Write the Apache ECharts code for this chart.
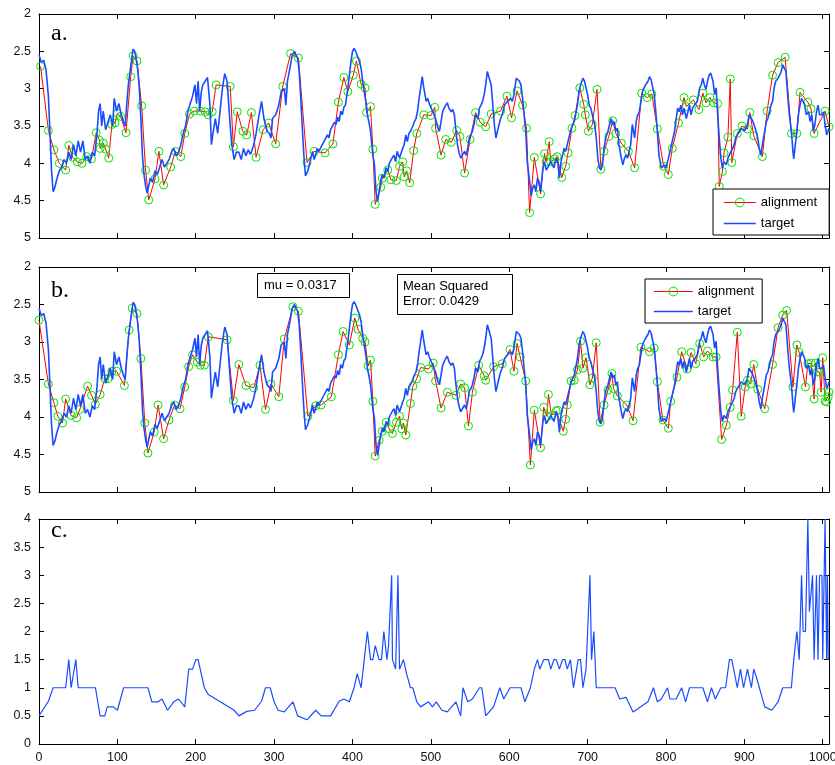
<!DOCTYPE html>
<html>
<head>
<meta charset="utf-8">
<script src="https://cdn.jsdelivr.net/npm/echarts@6/dist/echarts.min.js"></script>
<style>
  html, body { margin: 0; padding: 0; background: #fff; }
  #chart { width: 835px; height: 765px; }
</style>
</head>
<body>
<div id="chart"></div>
<script>
// target signal (same in panels a and b), [x, y]
const target = [
  [0,2.55],[3,2.65],[6,2.62],[9,2.75],[12,3.1],[14,3.6],[16,4.1],[18,4.38],[20,4.33],[23,4.2],[26,4.1],[29,4.05],
  [32,3.95],[35,4.0],[38,3.85],[41,3.95],[44,3.75],[47,3.9],[50,3.7],[53,3.85],[56,3.7],[59,3.95],[62,3.9],[65,4.0],
  [68,3.85],[71,3.9],[74,3.6],[76,3.3],[78,3.2],[80,3.5],[82,3.3],[85,3.55],[88,3.45],[91,3.35],[94,3.5],[96,3.13],
  [99,3.3],[102,3.2],[105,3.35],[108,3.45],[110,3.5],[112,3.2],[114,2.95],[117,2.7],[120,2.47],[122,2.5],[124,2.6],
  [126,2.75],[128,3.0],[130,3.4],[132,3.9],[134,4.15],[136,4.3],[138,4.4],[140,4.3],[142,4.2],[145,4.25],[148,4.1],
  [151,4.15],[154,4.05],[157,3.95],[160,4.05],[163,4.0],[166,3.95],[169,3.85],[172,3.8],[175,3.9],[178,3.85],
  [181,3.75],[184,3.6],[187,3.5],[190,3.3],[193,3.2],[196,3.1],[199,2.95],[201,3.2],[203,2.9],[205,3.3],[207,3.05],
  [209,2.95],[212,2.9],[215,2.85],[218,3.2],[220,3.75],[222,3.6],[225,3.4],[228,3.6],[231,3.3],[234,3.0],[237,2.8],
  [240,2.9],[242,3.2],[244,3.5],[246,3.75],[249,3.95],[252,3.85],[255,3.85],[258,3.95],[261,3.8],[264,3.9],
  [267,3.82],[270,3.88],[274,3.75],[277,3.6],[280,3.4],[284,3.17],[287,3.4],[291,3.57],[294,3.6],[296,3.66],
  [298,3.4],[302,3.35],[306,3.22],[309,3.04],[313,3.0],[315,3.22],[317,2.9],[321,2.68],[323,2.55],[326,2.5],
  [328,2.55],[330,2.59],[332,2.77],[334,3.13],[336,3.53],[338,3.9],[340,4.17],[343,4.1],[345,4.02],[347,3.93],
  [349,3.84],[351,3.95],[353,3.89],[355,3.8],[357,3.84],[360,3.78],[362,3.8],[364,3.7],[366,3.71],[368,3.62],
  [370,3.66],[372,3.55],[374,3.57],[377,3.45],[379,3.48],[381,3.38],[383,3.44],[385,3.3],[387,3.35],[389,3.25],
  [391,3.22],[394,3.0],[396,2.82],[398,2.64],[400,2.5],[402,2.46],[404,2.5],[406,2.48],[409,2.64],[411,2.73],
  [413,2.9],[415,3.04],[417,3.17],[419,3.35],[421,3.45],[423,3.57],[426,3.89],[428,4.02],[430,4.38],[432,4.51],
  [434,4.38],[436,4.24],[438,4.15],[440,4.2],[443,4.06],[445,4.11],[447,4.0],[449,3.98],[451,3.92],[453,3.89],
  [455,3.98],[457,3.84],[460,3.93],[462,3.92],[464,3.8],[466,3.75],[468,3.62],[470,3.71],[472,3.6],[474,3.57],
  [477,3.5],[479,3.44],[481,3.4],[483,3.3],[485,3.13],[487,2.99],[489,2.84],[491,2.99],[494,3.17],[496,3.13],
  [498,3.2],[500,3.22],[504,3.35],[506,3.4],[509,3.53],[511,3.57],[513,3.44],[515,3.31],[517,3.26],[519,3.22],
  [521,3.19],[523,3.26],[526,3.31],[528,3.28],[530,3.35],[532,3.57],[534,3.75],[536,3.86],[538,3.93],[540,3.91],
  [543,3.84],[545,3.89],[547,3.8],[549,3.66],[551,3.62],[553,3.57],[555,3.48],[557,3.35],[560,3.4],[562,3.26],
  [564,3.22],[566,3.17],[568,3.08],[570,2.95],[572,2.77],[574,2.75],[577,2.95],[579,3.22],[581,3.48],[583,3.66],
  [585,3.57],[587,3.48],[589,3.4],[591,3.35],[594,3.22],[598,3.17],[602,3.13],[604,3.17],[606,3.08],[609,2.86],
  [611,2.84],[613,2.9],[615,2.95],[617,3.13],[619,3.35],[621,3.57],[623,3.98],[626,4.24],[628,4.44],[630,4.33],
  [632,4.29],[634,4.38],[636,4.2],[638,4.24],[640,4.38],[643,4.06],[645,3.98],[647,4.09],[649,4.06],[653,3.98],
  [657,4.06],[660,3.93],[662,4.0],[664,4.2],[666,3.98],[668,3.89],[670,3.8],[672,3.84],[674,3.75],[677,3.62],
  [679,3.53],[683,3.44],[687,3.22],[689,3.04],[691,2.95],[694,2.86],[696,2.9],[698,2.99],[700,3.08],[702,3.22],
  [704,3.26],[706,3.35],[709,3.48],[711,3.66],[713,3.93],[715,4.06],[717,4.09],[719,4.02],[721,3.8],[723,3.66],
  [726,3.57],[728,3.48],[730,3.4],[732,3.48],[734,3.44],[736,3.57],[738,3.53],[740,3.75],[743,3.93],[745,4.02],
  [747,3.93],[749,3.89],[751,3.93],[753,3.84],[755,3.75],[757,3.48],[760,3.66],[762,3.44],[764,3.35],[766,3.31],
  [768,3.17],[770,3.04],[772,2.99],[774,2.95],[777,2.9],[779,2.84],[781,2.88],[783,2.9],[785,3.08],[787,3.31],
  [789,3.57],[791,3.89],[794,4.06],[796,4.04],[798,4.02],[800,4.06],[802,3.98],[804,3.89],[806,3.8],[809,3.66],
  [811,3.57],[813,3.4],[815,3.26],[817,3.31],[819,3.22],[821,3.35],[823,3.26],[826,3.4],[828,3.31],[830,3.22],
  [832,3.35],[834,3.26],[836,3.26],[840,3.17],[843,2.99],[845,2.95],[847,2.86],[849,2.95],[851,3.01],[853,2.9],
  [855,2.82],[857,2.79],[860,2.9],[862,3.08],[864,2.99],[866,3.35],[868,3.66],[870,3.93],[872,4.06],[874,3.98],
  [877,4.02],[879,3.93],[881,3.93],[883,3.84],[885,3.8],[887,3.75],[889,3.66],[891,3.62],[894,3.57],[896,3.53],
  [900,3.57],[902,3.53],[904,3.48],[906,3.35],[909,3.4],[911,3.44],[913,3.44],[915,3.57],[917,3.66],[919,3.8],
  [921,3.89],[923,3.75],[926,3.57],[928,3.44],[930,3.4],[932,3.31],[934,3.22],[936,3.17],[938,2.99],[940,2.9],
  [943,2.86],[945,2.82],[947,2.77],[949,2.68],[951,2.66],[953,2.77],[955,3.04],[957,3.31],[960,3.57],[962,3.84],
  [963,3.94],[965,3.75],[967,3.57],[969,3.35],[971,3.22],[973,3.13],[975,3.17],[977,3.22],[979,3.35],[982,3.31],
  [984,3.44],[986,3.35],[988,3.57],[990,3.48],[992,3.31],[994,3.22],[996,3.35],[999,3.35],[1001,3.31],[1003,3.48],
  [1005,3.62],[1007,3.57],[1008,3.53]
];

// alignment of panel a, [x, y]
const alignmentA = [
  [2,2.70],[12,3.56],[19,3.82],[26,4.0],[34,4.09],[38,3.76],[43,3.92],[49,3.98],[55,4.0],[61,3.91],[67,3.94],
  [73,3.59],[77,3.69],[78,3.80],[82,3.73],[85,3.81],[89,3.93],[93,3.48],[97,3.46],[100,3.33],[104,3.37],[111,3.59],
  [117,2.84],[120,2.56],[125,2.63],[131,3.23],[136,4.09],[140,4.49],[148,4.21],[153,3.84],[159,4.29],[168,4.05],
  [174,3.84],[181,3.91],[186,3.60],[192,3.34],[198,3.30],[206,3.30],[212,3.31],[216,3.35],[221,3.31],[226,2.95],
  [244,2.97],[248,3.78],[253,3.31],[260,3.57],[265,3.62],[271,3.32],[277,3.92],[286,3.55],[293,3.46],[302,3.74],
  [311,2.97],[321,2.53],[331,2.59],[342,3.99],[351,3.84],[365,3.86],[375,3.74],[382,3.18],[389,2.85],[394,3.04],
  [401,2.82],[405,2.63],[411,2.94],[416,2.99],[418,3.32],[423,3.24],[426,3.81],[429,4.55],[436,4.32],[438,4.20],
  [445,4.09],[449,4.22],[456,4.23],[460,4.04],[464,3.98],[466,4.18],[469,4.10],[473,4.26],[478,3.83],[482,3.60],
  [491,3.35],[500,3.36],[505,3.25],[506,3.53],[513,3.89],[519,3.68],[526,3.72],[533,3.56],[537,3.64],[543,4.13],
  [550,3.68],[557,3.32],[563,3.45],[570,3.51],[577,3.34],[589,3.30],[597,3.10],[603,3.39],[610,3.03],[617,3.22],
  [622,3.53],[626,4.66],[632,3.92],[640,4.41],[645,3.87],[647,3.98],[651,3.71],[653,3.98],[658,3.94],[661,3.91],
  [667,4.19],[672,4.04],[675,3.86],[680,3.53],[684,3.36],[690,2.99],[695,3.21],[697,3.35],[701,3.57],[706,3.48],
  [712,3.01],[717,4.08],[721,3.84],[727,3.64],[732,3.43],[736,3.60],[743,3.73],[752,3.84],[760,4.06],[769,3.06],
  [776,3.12],[782,3.07],[789,3.54],[797,4.04],[803,4.15],[808,3.80],[816,3.46],[823,3.12],[826,3.24],[835,3.15],
  [842,3.28],[847,3.06],[851,3.19],[856,3.12],[861,3.19],[866,3.20],[868,4.31],[872,4.11],[874,3.86],[879,3.65],
  [882,2.87],[884,3.99],[891,3.60],[897,3.50],[904,3.54],[907,3.32],[912,3.63],[923,3.91],[929,3.30],[936,2.82],
  [943,2.65],[952,2.58],[960,3.60],[967,3.60],[971,3.05],[981,3.18],[985,3.27],[989,3.60],[1003,3.30],[1008,3.51]
];

// alignment of panel b, [x, y]
const alignmentB = [
  [0,2.71],[12,3.56],[19,3.81],[24,3.99],[30,4.08],[34,3.76],[41,3.98],[48,4.01],[52,3.90],[62,3.59],[67,3.71],
  [72,3.83],[78,3.70],[84,3.49],[88,3.49],[93,3.39],[99,3.39],[109,3.58],[115,2.84],[119,2.55],[125,2.62],[130,3.22],
  [135,4.08],[139,4.48],[147,4.20],[152,3.84],[159,4.29],[166,4.04],[173,3.84],[180,3.89],[186,3.60],[191,3.33],
  [196,3.17],[202,3.27],[206,3.31],[211,3.31],[216,2.93],[240,2.97],[248,3.78],[255,3.30],[264,3.58],[274,3.61],
  [282,3.31],[289,3.90],[296,3.56],[306,3.73],[313,2.96],[324,2.53],[331,2.59],[343,3.99],[353,3.85],[360,3.84],
  [373,3.73],[382,3.17],[388,2.86],[396,3.04],[403,2.68],[407,2.83],[413,2.95],[416,3.00],[420,3.32],[423,3.24],
  [426,3.79],[429,4.52],[434,4.31],[438,4.19],[443,4.07],[447,4.16],[451,4.22],[456,4.07],[460,3.99],[463,4.16],
  [465,4.08],[468,4.24],[474,3.82],[477,3.59],[482,3.49],[487,3.34],[497,3.36],[503,3.28],[506,3.52],[513,3.88],
  [521,3.67],[532,3.71],[538,3.56],[543,3.61],[548,4.12],[553,3.67],[561,3.31],[568,3.45],[570,3.51],[580,3.33],
  [591,3.29],[601,3.10],[606,3.39],[610,3.02],[614,3.20],[621,3.52],[627,4.64],[632,3.91],[640,4.41],[644,3.87],
  [648,3.99],[650,3.70],[654,3.98],[660,3.92],[662,3.91],[669,4.19],[672,4.03],[674,3.84],[679,3.52],[683,3.51],
  [687,3.37],[691,2.99],[694,3.35],[698,3.21],[703,3.57],[706,3.48],[711,3.01],[716,4.07],[721,3.84],[726,3.64],
  [731,3.42],[733,3.62],[738,3.72],[750,3.84],[758,4.05],[768,3.07],[779,3.13],[785,3.08],[789,3.53],[796,4.04],
  [803,4.15],[806,3.79],[814,3.47],[820,3.13],[827,3.36],[832,3.14],[838,3.29],[843,3.02],[848,3.20],[853,3.12],
  [860,3.20],[864,3.20],[871,4.30],[877,4.11],[882,3.87],[885,3.64],[891,2.87],[896,3.99],[901,3.60],[904,3.51],
  [908,3.56],[912,3.30],[917,3.63],[926,3.89],[936,3.30],[943,2.81],[949,2.64],[954,2.58],[962,3.60],[967,3.04],
  [970,3.14],[978,3.60],[981,3.29],[985,3.28],[989,3.76],[991,3.28],[993,3.40],[996,3.40],[998,3.67],[1000,3.21],
  [1003,3.79],[1005,3.80],[1007,3.73],[1008,3.67]
];

// panel c, [x, y]
const warp = [
  [0,0.5],[12,0.76],[18,1.0],[34,1.0],[38,1.5],[41,1.0],[47,1.5],[50,1.0],[72,1.0],[78,0.5],[84,0.5],[87,0.66],
  [95,0.66],[100,0.6],[108,1.0],[139,1.0],[144,0.75],[152,0.75],[157,0.8],[164,0.6],[172,0.75],[178,0.8],[186,0.66],
  [191,1.33],[196,1.33],[200,1.5],[203,1.5],[211,1.0],[216,0.88],[249,0.6],[255,0.5],[265,0.58],[275,0.6],[284,0.76],
  [289,1.0],[295,1.0],[300,0.75],[305,0.6],[313,0.57],[324,0.75],[330,0.5],[342,0.43],[353,0.6],[360,0.5],[372,0.5],
  [383,0.76],[389,0.8],[396,0.75],[402,1.0],[406,1.25],[411,1.0],[415,1.5],[419,2.0],[423,1.5],[426,1.5],[429,1.75],
  [434,1.5],[437,1.5],[440,2.0],[444,1.5],[446,1.75],[450,3.0],[451,1.5],[455,1.33],[458,3.0],[460,1.33],[465,1.5],
  [469,1.25],[474,1.0],[477,1.0],[482,0.75],[487,0.66],[497,0.75],[502,0.66],[507,0.75],[514,0.6],[521,0.57],
  [532,0.75],[538,0.5],[541,1.0],[547,0.75],[553,0.8],[562,1.0],[565,1.0],[570,0.5],[580,0.66],[588,1.0],[593,0.8],
  [601,1.0],[615,1.0],[620,0.75],[627,1.0],[632,1.33],[636,1.5],[639,1.33],[644,1.5],[650,1.5],[653,1.33],[657,1.5],
  [660,1.5],[664,1.33],[668,1.5],[671,1.5],[674,1.33],[678,1.5],[682,1.0],[688,1.5],[691,1.5],[694,1.0],[698,1.33],
  [703,3.0],[705,1.5],[708,2.0],[711,1.0],[735,1.0],[741,0.8],[749,0.83],[758,0.57],[777,0.75],[784,1.0],[789,0.75],
  [794,0.8],[802,1.0],[805,0.8],[813,0.8],[820,1.0],[825,0.75],[830,1.0],[847,1.0],[853,0.75],[858,1.0],[863,0.8],
  [870,1.0],[876,1.0],[881,1.5],[884,1.5],[891,1.0],[895,1.33],[899,1.0],[904,1.33],[909,1.0],[912,1.33],[916,1.16],
  [926,0.66],[935,0.6],[943,0.75],[949,1.0],[960,1.0],[963,1.5],[967,2.0],[970,1.5],[973,3.0],[975,2.0],[978,2.0],
  [981,4.0],[983,2.35],[987,3.0],[989,1.5],[992,3.0],[994,1.5],[996,3.0],[999,3.0],[1000,1.5],[1003,4.0],[1005,1.5],
  [1006,3.0],[1007,1.5]
];

const panelLabels = ['a.', 'b.', 'c.'];
const muText = 'mu = 0.0317';
const mseText = 'Mean Squared\nError: 0.0429';
const legendNames = ['alignment', 'target'];
const xMax = 1008;

const font = '"Liberation Sans", Arial, Helvetica, sans-serif';
const serif = '"Liberation Serif", "Times New Roman", serif';
const blue = '#1a4cff', red = '#ff0000', green = '#00e600';

// fixed plot boxes; outerBoundsMode none so the clipped "1000" label does not shrink the last panel
const grids = [
  { left: 39, top: 14, width: 790, height: 224, containLabel: false, outerBoundsMode: 'none' },
  { left: 39, top: 267, width: 790, height: 225, containLabel: false, outerBoundsMode: 'none' },
  { left: 39, top: 519, width: 790, height: 225, containLabel: false, outerBoundsMode: 'none' }
];
const yRanges = [
  { min: 2, max: 5, inverse: true },
  { min: 2, max: 5, inverse: true },
  { min: 0, max: 4, inverse: false }
];

function xAxisFor(i, pos) {
  return {
    type: 'value', gridIndex: i, position: pos, min: 0, max: xMax, interval: 100,
    axisLine: { show: true, onZero: false, lineStyle: { color: '#000', width: 1 } },
    axisTick: { show: true, inside: true, length: 5, lineStyle: { color: '#000' } },
    axisLabel: {
      show: pos === 'bottom' && i === 2, color: '#111', fontSize: 12.5, fontFamily: font, margin: 7,
      formatter: v => (v % 100 === 0 ? String(v) : '')
    },
    splitLine: { show: false }
  };
}
function yAxisFor(i, pos) {
  const r = yRanges[i];
  return {
    type: 'value', gridIndex: i, position: pos, min: r.min, max: r.max, interval: 0.5, inverse: r.inverse,
    axisLine: { show: true, onZero: false, lineStyle: { color: '#000', width: 1 } },
    axisTick: { show: true, inside: true, length: 5, lineStyle: { color: '#000' } },
    axisLabel: { show: pos === 'left', color: '#111', fontSize: 12.5, fontFamily: font, margin: 8 },
    splitLine: { show: false }
  };
}

function alignSeries(i, data) {
  return {
    name: 'alignment', type: 'line', xAxisIndex: i, yAxisIndex: i, data: data,
    symbol: 'circle', symbolSize: 8, z: 2,
    lineStyle: { color: red, width: 1 },
    itemStyle: { color: 'rgba(0,0,0,0)', borderColor: green, borderWidth: 1 },
    emphasis: { disabled: true }
  };
}
function targetSeries(i) {
  return {
    name: 'target', type: 'line', xAxisIndex: i, yAxisIndex: i, data: target,
    symbol: 'none', z: 3, lineStyle: { color: blue, width: 1.6 },
    emphasis: { disabled: true }
  };
}
function legendFor(pos) {
  return Object.assign({
    orient: 'vertical', selectedMode: false, itemHeight: 11,
    borderColor: '#000', borderWidth: 1, borderRadius: 0, backgroundColor: '#fff',
    textStyle: { color: '#000', fontSize: 13, fontFamily: font },
    data: [
      { name: legendNames[0], itemStyle: { color: 'rgba(0,0,0,0)', borderColor: green, borderWidth: 1 },
        lineStyle: { color: red, width: 1 } },
      { name: legendNames[1], itemStyle: { opacity: 0 }, lineStyle: { color: blue, width: 1.6 } }
    ]
  }, pos);
}

const labelStyle = { fontFamily: serif, fontSize: 24, fontWeight: 'normal', color: '#000' };
const boxStyle = { fontFamily: font, fontSize: 13, fontWeight: 'normal', color: '#000', lineHeight: 15 };

const option = {
  animation: false,
  backgroundColor: '#fff',
  grid: grids,
  xAxis: [xAxisFor(0, 'bottom'), xAxisFor(1, 'bottom'), xAxisFor(2, 'bottom'),
          xAxisFor(0, 'top'), xAxisFor(1, 'top'), xAxisFor(2, 'top')],
  yAxis: [yAxisFor(0, 'left'), yAxisFor(1, 'left'), yAxisFor(2, 'left'),
          yAxisFor(0, 'right'), yAxisFor(1, 'right'), yAxisFor(2, 'right')],
  title: [
    { text: panelLabels[0], left: 51, top: 22, padding: 0, textStyle: labelStyle },
    { text: panelLabels[1], left: 51, top: 279, padding: 0, textStyle: labelStyle },
    { text: panelLabels[2], left: 51, top: 519, padding: 0, textStyle: labelStyle },
    { text: muText, left: 257, top: 273, padding: [5, 13, 5, 7], borderColor: '#000', borderWidth: 1,
      backgroundColor: '#fff', textStyle: boxStyle },
    { text: mseText, left: 397, top: 274, padding: [5, 24, 6, 6], borderColor: '#000', borderWidth: 1,
      backgroundColor: '#fff', textStyle: boxStyle }
  ],
  legend: [
    legendFor({ left: 713, top: 189, itemWidth: 32, itemGap: 8, padding: [7, 12, 5, 10] }),
    legendFor({ left: 645, top: 279, itemWidth: 39, itemGap: 7, padding: [6, 8, 5, 8] })
  ],
  series: [
    alignSeries(0, alignmentA), targetSeries(0),
    alignSeries(1, alignmentB), targetSeries(1),
    { name: 'warp', type: 'line', xAxisIndex: 2, yAxisIndex: 2, data: warp, symbol: 'none',
      lineStyle: { color: blue, width: 1.2 }, emphasis: { disabled: true } }
  ]
};

const chart = echarts.init(document.getElementById('chart'));
chart.setOption(option);
</script>
</body>
</html>
